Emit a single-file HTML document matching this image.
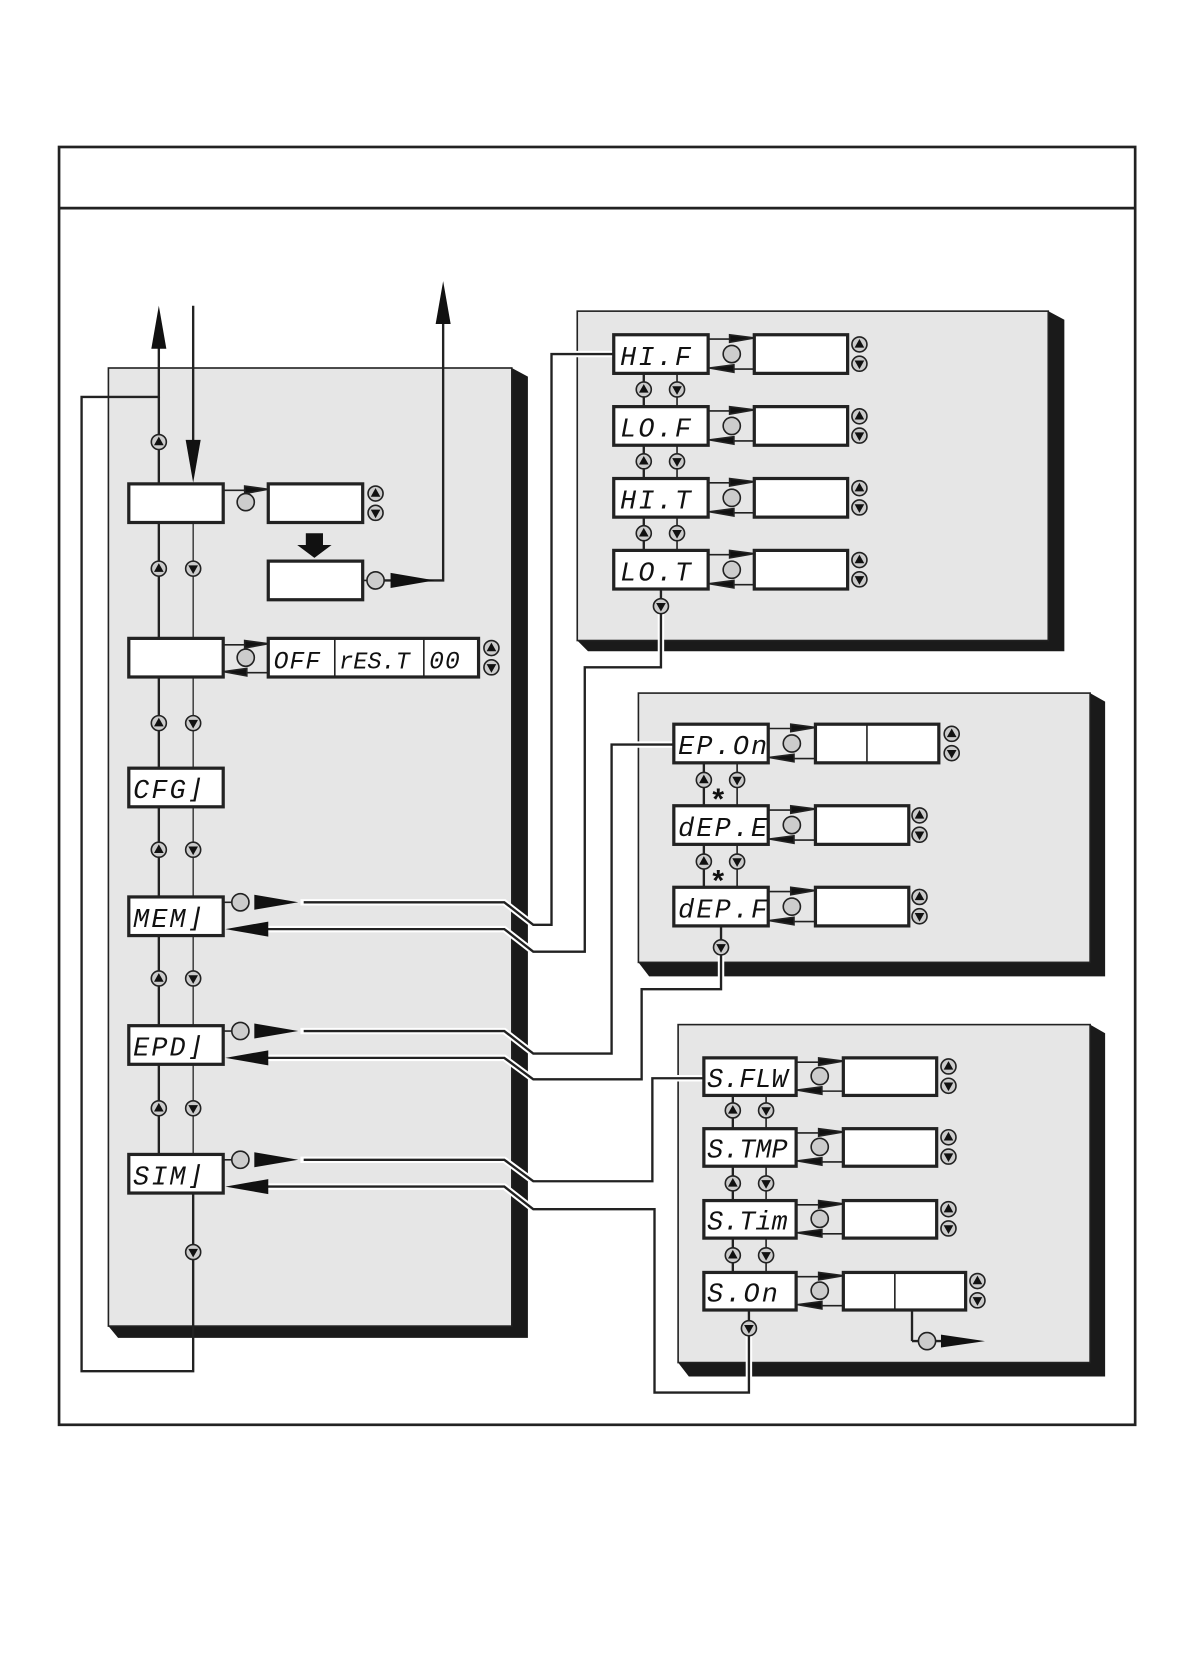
<!DOCTYPE html>
<html><head><meta charset="utf-8"><style>
html,body{margin:0;padding:0;background:#fff;}
svg{display:block}
.lcd{font-family:"Liberation Mono",monospace;font-style:italic;font-size:25px;fill:#111;letter-spacing:2px}
</style></head><body>
<svg width="1191" height="1678" viewBox="0 0 1110 1564" xmlns="http://www.w3.org/2000/svg">
<defs>
<g id="up"><circle r="7" fill="#ccc" stroke="#222" stroke-width="1.5"/><path d="M-4.5,3 L4.5,3 L0,-5 Z" fill="#111"/></g>
<g id="dn"><circle r="7" fill="#ccc" stroke="#222" stroke-width="1.5"/><path d="M-4.5,-3 L4.5,-3 L0,5 Z" fill="#111"/></g>
<circle id="ok" r="8" fill="#ccc" stroke="#222" stroke-width="1.5"/>
</defs>
<rect width="1110" height="1564" fill="#fff"/>
<rect x="55" y="137" width="1003" height="1191" fill="none" stroke="#222" stroke-width="2.5"/>
<line x1="55" y1="194" x2="1058" y2="194" stroke="#222" stroke-width="2.5"/>

<g stroke="none">
<path d="M477,343 L492,351 L492,1247 L110,1247 L101,1236 L477,1236 Z" fill="#1a1a1a"/>
<rect x="101" y="343" width="376" height="893" fill="#e6e6e6" stroke="#222" stroke-width="1.5"/>
<path d="M977,290 L992,298 L992,607 L548,607 L538,597 L977,597 Z" fill="#1a1a1a"/>
<rect x="538" y="290" width="439" height="307" fill="#e6e6e6" stroke="#222" stroke-width="1.5"/>
<path d="M1016,646 L1030,654 L1030,910 L605,910 L595,897 L1016,897 Z" fill="#1a1a1a"/>
<rect x="595" y="646" width="421" height="251" fill="#e6e6e6" stroke="#222" stroke-width="1.5"/>
<path d="M1016,955 L1030,963 L1030,1283 L642,1283 L632,1270 L1016,1270 Z" fill="#1a1a1a"/>
<rect x="632" y="955" width="384" height="315" fill="#e6e6e6" stroke="#222" stroke-width="1.5"/>
</g>

<g fill="none" stroke-linejoin="miter">
<g stroke="#fff" stroke-width="6">
<polyline points="280,841 470,841 497,862 514,862 514,330 572,330"/>
<polyline points="616,572 616,622 545,622 545,887 497,887 470,866 240,866"/>
<polyline points="280,961 470,961 497,982 570,982 570,694 628,694"/>
<polyline points="672,890 672,922 598,922 598,1006 497,1006 470,986 240,986"/>
<polyline points="280,1081 470,1081 497,1101 608,1101 608,1005 656,1005"/>
<polyline points="698,1245 698,1298 610,1298 610,1127 497,1127 470,1106 240,1106"/>
</g>
<g stroke="#222" stroke-width="2.2">
<polyline points="283,841 470,841 497,862 514,862 514,330 572,330"/>
<polyline points="616,572 616,622 545,622 545,887 497,887 470,866 240,866"/>
<polyline points="283,961 470,961 497,982 570,982 570,694 628,694"/>
<polyline points="672,890 672,922 598,922 598,1006 497,1006 470,986 240,986"/>
<polyline points="283,1081 470,1081 497,1101 608,1101 608,1005 656,1005"/>
<polyline points="698,1245 698,1298 610,1298 610,1127 497,1127 470,1106 240,1106"/>
<polyline points="148,300 148,370 76,370 76,1278 180,1278 180,1112"/>
<line x1="148" y1="370" x2="148" y2="451"/>
<line x1="180" y1="285" x2="180" y2="420"/>
<line x1="148" y1="487" x2="148" y2="1076"/>
<line x1="180" y1="487" x2="180" y2="1076" stroke-width="1.2"/>
<polyline points="358,541 400,541 413,541 413,290"/>
<line x1="850" y1="1221" x2="850" y2="1250"/><line x1="850" y1="1250" x2="880" y2="1250"/>
<line x1="600" y1="348" x2="600" y2="513"/><line x1="631" y1="348" x2="631" y2="513" stroke-width="1.5"/>
<line x1="656" y1="711" x2="656" y2="827"/><line x1="687" y1="711" x2="687" y2="827" stroke-width="1.5"/>
<line x1="683" y1="1087" x2="683" y2="1186"/><line x1="714" y1="1021" x2="714" y2="1186" stroke-width="1.5"/>
<line x1="683" y1="1021" x2="683" y2="1052"/>
<line x1="616" y1="549" x2="616" y2="572"/><line x1="672" y1="863" x2="672" y2="890"/><line x1="698" y1="1221" x2="698" y2="1245"/>
</g>
</g>
<g fill="#111">
<path d="M141,325 L155,325 L148,285 Z"/>
<path d="M173,410 L187,410 L180,450 Z"/>
<path d="M406,302 L420,302 L413,262 Z"/>
<path d="M364,534 L364,548 L405,541 Z"/>
<path d="M237,834 L237,848 L278,841 Z"/><path d="M250,859 L250,873 L210,866 Z"/>
<path d="M237,954 L237,968 L278,961 Z"/><path d="M250,979 L250,993 L210,986 Z"/>
<path d="M237,1074 L237,1088 L278,1081 Z"/><path d="M250,1099 L250,1113 L210,1106 Z"/>
<path d="M877,1244 L877,1256 L918,1250 Z"/>
<path d="M285,497 L301,497 L301,508 L309,508 L293,520 L277,508 L285,508 Z"/>
</g>
<g fill="#fff" stroke="#222" stroke-width="3">
<rect x="120" y="451" width="88" height="36"/><rect x="250" y="451" width="88" height="36"/>
<rect x="250" y="523" width="88" height="36"/>
<rect x="120" y="595" width="88" height="36"/><rect x="250" y="595" width="196" height="36"/>
<rect x="120" y="716" width="88" height="36"/><rect x="120" y="836" width="88" height="36"/>
<rect x="120" y="956" width="88" height="36"/><rect x="120" y="1076" width="88" height="36"/>
</g>
<line x1="312" y1="595" x2="312" y2="631" stroke="#222" stroke-width="1.5"/><line x1="395" y1="595" x2="395" y2="631" stroke="#222" stroke-width="1.5"/>
<g stroke="#222" stroke-width="1.5" fill="#111">
<line x1="208" y1="457" x2="240" y2="457"/><path d="M228,453 L250,456 L228,460Z"/>
<line x1="208" y1="601" x2="240" y2="601"/><path d="M228,597 L250,600 L228,604Z"/>
<line x1="218" y1="627" x2="250" y2="627"/><path d="M230,623 L208,626 L230,630Z"/>
<line x1="338" y1="541" x2="345" y2="541"/><line x1="208" y1="841" x2="217" y2="841"/><line x1="208" y1="961" x2="217" y2="961"/><line x1="208" y1="1081" x2="217" y2="1081"/>
</g>
<use href="#ok" x="229" y="468"/><use href="#ok" x="350" y="541"/><use href="#ok" x="229" y="613"/>
<use href="#ok" x="224" y="841"/><use href="#ok" x="224" y="961"/><use href="#ok" x="224" y="1081"/>
<use href="#up" x="350" y="460"/><use href="#dn" x="350" y="478"/>
<use href="#up" x="458" y="604"/><use href="#dn" x="458" y="622"/>
<use href="#up" x="148" y="412"/>
<use href="#up" x="148" y="530"/><use href="#dn" x="180" y="530"/>
<use href="#up" x="148" y="674"/><use href="#dn" x="180" y="674"/>
<use href="#up" x="148" y="792"/><use href="#dn" x="180" y="792"/>
<use href="#up" x="148" y="912"/><use href="#dn" x="180" y="912"/>
<use href="#up" x="148" y="1033"/><use href="#dn" x="180" y="1033"/>
<use href="#dn" x="180" y="1167"/>
<g class="lcd">
<text x="255" y="623" font-size="23" letter-spacing="1">OFF</text><text x="316" y="623" font-size="22" letter-spacing="0">rES.T</text><text x="400" y="623" font-size="23" letter-spacing="1">00</text>
<text x="124" y="744">CFG⌋</text><text x="124" y="864">MEM⌋</text><text x="124" y="984">EPD⌋</text><text x="124" y="1104">SIM⌋</text>
</g>

<g fill="#fff" stroke="#222" stroke-width="3">
<rect x="572" y="312" width="88" height="36"/><rect x="703" y="312" width="87" height="36"/>
<rect x="572" y="379" width="88" height="36"/><rect x="703" y="379" width="87" height="36"/>
<rect x="572" y="446" width="88" height="36"/><rect x="703" y="446" width="87" height="36"/>
<rect x="572" y="513" width="88" height="36"/><rect x="703" y="513" width="87" height="36"/>
<rect x="628" y="675" width="88" height="36"/><rect x="760" y="675" width="115" height="36"/>
<rect x="628" y="751" width="88" height="36"/><rect x="760" y="751" width="87" height="36"/>
<rect x="628" y="827" width="88" height="36"/><rect x="760" y="827" width="87" height="36"/>
<rect x="656" y="986" width="86" height="35"/><rect x="786" y="986" width="87" height="35"/>
<rect x="656" y="1052" width="86" height="35"/><rect x="786" y="1052" width="87" height="35"/>
<rect x="656" y="1119" width="86" height="35"/><rect x="786" y="1119" width="87" height="35"/>
<rect x="656" y="1186" width="86" height="35"/><rect x="786" y="1186" width="114" height="35"/>
</g>
<line x1="808" y1="675" x2="808" y2="711" stroke="#222" stroke-width="1.5"/>
<line x1="834" y1="1186" x2="834" y2="1221" stroke="#222" stroke-width="1.5"/>
<g stroke="#222" stroke-width="1.5" fill="#111">
<g id="pr1"><line x1="660" y1="316" x2="690" y2="316"/><path d="M680,312 L703,315 L680,319Z"/><line x1="672" y1="344" x2="703" y2="344"/><path d="M684,340 L661,343 L684,347Z"/></g>
<use href="#pr1" y="67"/><use href="#pr1" y="134"/><use href="#pr1" y="201"/>
<g id="pr2"><line x1="716" y1="679" x2="745" y2="679"/><path d="M737,675 L760,678 L737,682Z"/><line x1="728" y1="707" x2="760" y2="707"/><path d="M740,703 L717,706 L740,710Z"/></g>
<use href="#pr2" y="76"/><use href="#pr2" y="152"/>
<g id="pr3"><line x1="742" y1="990" x2="770" y2="990"/><path d="M763,986 L786,989 L763,993Z"/><line x1="754" y1="1017" x2="786" y2="1017"/><path d="M766,1013 L743,1016 L766,1020Z"/></g>
<use href="#pr3" y="66"/><use href="#pr3" y="133"/><use href="#pr3" y="200"/>
</g>
<use href="#ok" x="682" y="330"/><use href="#ok" x="682" y="397"/><use href="#ok" x="682" y="464"/><use href="#ok" x="682" y="531"/>
<use href="#ok" x="738" y="693"/><use href="#ok" x="738" y="769"/><use href="#ok" x="738" y="845"/>
<use href="#ok" x="764" y="1003"/><use href="#ok" x="764" y="1069"/><use href="#ok" x="764" y="1136"/><use href="#ok" x="764" y="1203"/>
<use href="#ok" x="864" y="1250"/>
<use href="#up" x="801" y="321"/><use href="#dn" x="801" y="339"/>
<use href="#up" x="801" y="388"/><use href="#dn" x="801" y="406"/>
<use href="#up" x="801" y="455"/><use href="#dn" x="801" y="473"/>
<use href="#up" x="801" y="522"/><use href="#dn" x="801" y="540"/>
<use href="#up" x="600" y="363"/><use href="#dn" x="631" y="363"/>
<use href="#up" x="600" y="430"/><use href="#dn" x="631" y="430"/>
<use href="#up" x="600" y="497"/><use href="#dn" x="631" y="497"/>
<use href="#dn" x="616" y="565"/>
<use href="#up" x="887" y="684"/><use href="#dn" x="887" y="702"/>
<use href="#up" x="857" y="760"/><use href="#dn" x="857" y="778"/>
<use href="#up" x="857" y="836"/><use href="#dn" x="857" y="854"/>
<use href="#up" x="656" y="727"/><use href="#dn" x="687" y="727"/>
<use href="#up" x="656" y="803"/><use href="#dn" x="687" y="803"/>
<use href="#dn" x="672" y="883"/>
<use href="#up" x="884" y="994"/><use href="#dn" x="884" y="1012"/>
<use href="#up" x="884" y="1060"/><use href="#dn" x="884" y="1078"/>
<use href="#up" x="884" y="1127"/><use href="#dn" x="884" y="1145"/>
<use href="#up" x="911" y="1194"/><use href="#dn" x="911" y="1212"/>
<use href="#up" x="683" y="1035"/><use href="#dn" x="714" y="1035"/>
<use href="#up" x="683" y="1103"/><use href="#dn" x="714" y="1103"/>
<use href="#up" x="683" y="1170"/><use href="#dn" x="714" y="1170"/>
<use href="#dn" x="698" y="1238"/>
<text x="664" y="754" font-family="Liberation Sans,sans-serif" font-weight="bold" font-size="28" fill="#111">*</text>
<text x="664" y="830" font-family="Liberation Sans,sans-serif" font-weight="bold" font-size="28" fill="#111">*</text>
<g class="lcd">
<text x="578" y="340">HI.F</text><text x="578" y="407">LO.F</text><text x="578" y="474">HI.T</text><text x="578" y="541">LO.T</text>
<text x="632" y="703">EP.On</text><text x="632" y="779">dEP.E</text><text x="632" y="855">dEP.F</text>
<text x="659" y="1013" letter-spacing="0">S.FLW</text><text x="659" y="1079" letter-spacing="0">S.TMP</text><text x="659" y="1146" letter-spacing="0">S.Tim</text><text x="659" y="1213">S.On</text>
</g>
</svg>
</body></html>
